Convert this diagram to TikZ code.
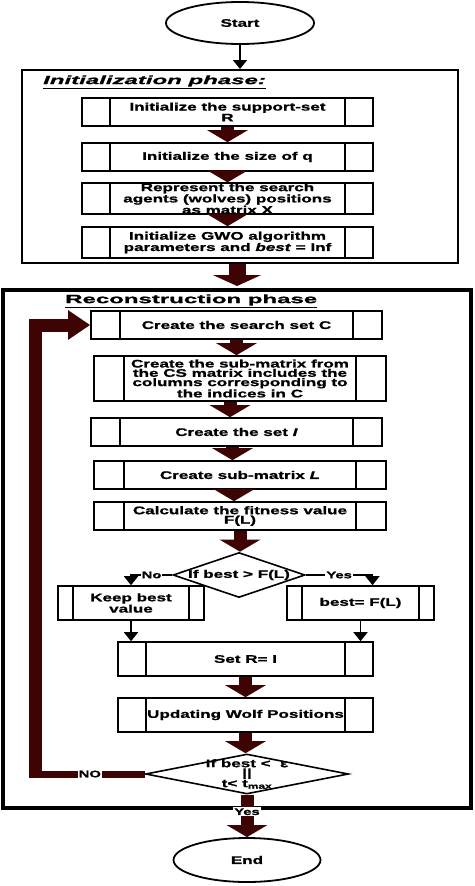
\documentclass[tikz,border=0pt]{standalone}
\usepackage{fontspec}
\usetikzlibrary{shapes.geometric,arrows.meta}
\newfontfamily\flowfont{Liberation Sans}[FakeStretch=1.55,
  BoldFeatures={FakeBold=1.2},BoldItalicFeatures={FakeBold=1.2}]
\newfontfamily\headfont{Liberation Sans}[FakeStretch=2.0,
  BoldFeatures={FakeBold=1.2},BoldItalicFeatures={FakeBold=1.2}]
\definecolor{wolfred}{RGB}{62,4,4}

\begin{document}
\begin{tikzpicture}[x=1pt,y=-1pt,
  side gap/.store in=\sidegap, side gap=28pt,
  flow text/.style={font=\flowfont\bfseries\fontsize{11}{9.3}\selectfont,align=center},
  head text/.style={font=\headfont\bfseries\fontsize{12}{12}\selectfont,inner sep=0pt},
  frame node/.style={draw,line width=2pt,inner sep=0pt},
  proc node/.style={draw,rectangle,line width=1.6pt,inner sep=0pt,flow text,
    path picture={\draw[line width=1.6pt]
      ([xshift=\sidegap]path picture bounding box.north west) -- ([xshift=\sidegap]path picture bounding box.south west)
      ([xshift=-\sidegap]path picture bounding box.north east) -- ([xshift=-\sidegap]path picture bounding box.south east);}},
  term node/.style={draw,ellipse,line width=1.8pt,inner sep=0pt,flow text},
  decision node/.style={draw,diamond,line width=1.6pt,inner sep=0pt},
  branch label/.style={fill=white,inner sep=1pt,font=\flowfont\bfseries\fontsize{9.5}{9.5}\selectfont},
  thin arrow/.style={draw,line width=1.8pt,-{Triangle[width=14pt,length=9pt]}},
  big arrow/.style={draw=wolfred,line width=13pt,-{Triangle[width=40pt,length=12pt]}}]

  \useasboundingbox (0,0) rectangle (474,886);

  % initialization phase
  \node[term node,minimum width=148pt,minimum height=42pt] (start) at (240,23) {Start};
  \node[frame node,minimum width=436pt,minimum height=193pt] (initbox) at (240,166.5) {};
  \node[head text,anchor=west] (inittitle) at (43,82) {\underline{\textit{Initialization phase:}}};
  \node[proc node,minimum width=291pt,minimum height=28pt] (init1) at (227.5,112) {Initialize the support-set\\R};
  \node[proc node,minimum width=291pt,minimum height=28pt] (init2) at (227.5,157) {Initialize the size of q};
  \node[proc node,minimum width=291pt,minimum height=29pt] (init3) at (227.5,198.5) {Represent the search\\agents (wolves) positions\\as matrix X};
  \node[proc node,minimum width=291pt,minimum height=31pt] (init4) at (227.5,242.5) {Initialize GWO algorithm\\parameters and \textit{best} = Inf};

  % reconstruction phase
  \node[frame node,line width=4pt,minimum width=468pt,minimum height=518pt] (recbox) at (237,549) {};
  \node[head text,anchor=west] (rectitle) at (65,301) {\underline{Reconstruction phase}};
  \node[proc node,side gap=29pt,minimum width=291pt,minimum height=28pt] (searchset) at (236.5,325) {Create the search set C};
  \node[proc node,side gap=30pt,minimum width=292pt,minimum height=45pt] (submat) at (240,378.5) {Create the sub-matrix from\\the CS matrix includes the\\columns corresponding to\\the indices in C};
  \node[proc node,side gap=29pt,minimum width=291pt,minimum height=28pt] (setI) at (236.5,432) {Create the set \textit{I}};
  \node[proc node,side gap=30pt,minimum width=292pt,minimum height=28pt] (setL) at (240,475) {Create sub-matrix \textit{L}};
  \node[proc node,side gap=30pt,minimum width=292pt,minimum height=28pt] (fit) at (240,516) {Calculate the fitness value\\F(L)};
  \node[decision node,minimum width=132pt,minimum height=45pt,
    label={[flow text]center:If best > F(L)}] (test1) at (239,575) {};
  \node[proc node,side gap=15pt,minimum width=146pt,minimum height=34pt] (keep) at (131,603) {Keep best\\value};
  \node[proc node,side gap=15pt,minimum width=147pt,minimum height=34pt] (newbest) at (360.5,603) {best= F(L)};
  \node[proc node,minimum width=255pt,minimum height=34pt] (setR) at (245.5,659) {Set R= I};
  \node[proc node,minimum width=255pt,minimum height=34pt] (update) at (245.5,715) {Updating Wolf Positions};
  \node[decision node,minimum width=203pt,minimum height=40pt,
    label={[flow text]center:If best <~~ε\\||\\t< t\textsubscript{max}}] (test2) at (247,774) {};
  \node[term node,minimum width=147pt,minimum height=44pt] (end) at (247,860) {End};

  % connectors
  \draw[thin arrow] (start) -- (initbox);
  \draw[big arrow] (init1.south) -- (init2.north);
  \draw[big arrow] (init2.south) -- (init3.north);
  \draw[big arrow] (init3.south) -- (init4.north);
  \draw[big arrow,line width=17pt,-{Triangle[width=48pt,length=11pt]}]
    ([xshift=-3pt]initbox.south) -- ([xshift=-3pt,yshift=2pt]initbox.south |- recbox.north);
  \draw[big arrow] (searchset.south) -- (searchset.south |- submat.north);
  \draw[big arrow] ([xshift=-10pt]submat.south) -- ([xshift=-10pt]submat.south |- setI.north);
  \draw[big arrow] ([xshift=-4pt]setI.south) -- ([xshift=-4pt]setI.south |- setL.north);
  \draw[big arrow] ([xshift=-6pt]setL.south) -- ([xshift=-6pt]setL.south |- fit.north);
  \draw[big arrow] (fit.south) -- (fit.south |- test1.north);
  \draw[thin arrow] (test1.west) -- node[branch label] {No} (test1.west -| keep) -- (keep.north);
  \draw[thin arrow] (test1.east) -- node[branch label] {Yes} ([xshift=12pt]test1.east -| newbest) -- ([xshift=12pt]newbest.north);
  \draw[thin arrow] (keep.south) -- (keep.south |- setR.north);
  \draw[thin arrow] (newbest.south) -- (newbest.south |- setR.north);
  \draw[big arrow] (setR.south) -- (setR.south |- update.north);
  \draw[big arrow] (update.south) -- (update.south |- test2.north);

  \coordinate (loopcorner) at (35,774);
  \draw[draw=wolfred,line width=7pt] (test2.west) -- node[branch label] {NO} (loopcorner);
  \draw[draw=wolfred,line width=13pt,-{Triangle[width=28pt,length=22pt]}]
    ([yshift=-3.5pt]loopcorner) |- (searchset.west);
  \draw[big arrow] (test2.south) -- node[branch label,pos=0.4] {Yes} (end.north);
\end{tikzpicture}
\end{document}
